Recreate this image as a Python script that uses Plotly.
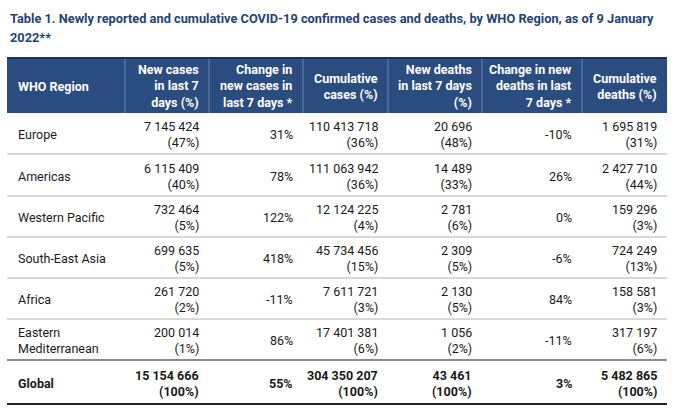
import plotly.graph_objects as go

# ---------------- data ----------------
title_lines = [
    "Table 1. Newly reported and cumulative COVID-19 confirmed cases and deaths, "
    "by WHO Region, as of 9 January",
    "2022**",
]
headers = [
    "WHO Region",
    "New cases<br>in last 7<br>days (%)",
    "Change in<br>new cases in<br>last 7 days *",
    "Cumulative<br>cases (%)",
    "New deaths<br>in last 7 days<br>(%)",
    "Change in new<br>deaths in last<br>7 days *",
    "Cumulative<br>deaths (%)",
]
regions = ["Europe", "Americas", "Western Pacific", "South-East Asia", "Africa",
           "Eastern Mediterranean", "Global"]
new_cases = [7145424, 6115409, 732464, 699635, 261720, 200014, 15154666]
new_cases_pct = [47, 40, 5, 5, 2, 1, 100]
change_cases = [31, 78, 122, 418, -11, 86, 55]
cum_cases = [110413718, 111063942, 12124225, 45734456, 7611721, 17401381, 304350207]
cum_cases_pct = [36, 36, 4, 15, 3, 6, 100]
new_deaths = [20696, 14489, 2781, 2309, 2130, 1056, 43461]
new_deaths_pct = [48, 33, 6, 5, 5, 2, 100]
change_deaths = [-10, 26, 0, -6, 84, -11, 3]
cum_deaths = [1695819, 2427710, 159296, 724249, 158581, 317197, 5482865]
cum_deaths_pct = [31, 44, 3, 13, 3, 6, 100]

# ---------------- layout constants ----------------
W, H = 680, 408
FONT = "Roboto, Arial, sans-serif"
col_edges = [7, 125, 209, 303, 388, 482, 582, 667]
header_top, header_bottom = 57, 113
row_edges = [113, 154, 196, 237, 278, 319, 360, 404]
HEADER_BG = "#2B4C7E"
TEXT = "#1a1a1a"
TITLE_COLOR = "#244374"


def fmt(v):
    return f"{v:,}".replace(",", " ")


def wrap_region(s):
    return s.replace("Eastern ", "Eastern<br>")


fig = go.Figure()
fig.add_trace(go.Scatter(x=[0, W], y=[0, H], mode="markers",
                         marker=dict(opacity=0), hoverinfo="skip", showlegend=False))

shapes = []
annotations = []

# header background
shapes.append(dict(type="rect", x0=col_edges[0], x1=col_edges[-1], y0=header_top,
                   y1=header_bottom, fillcolor=HEADER_BG, line=dict(width=0), layer="below"))
shapes.append(dict(type="rect", x0=col_edges[0], x1=col_edges[-1], y0=header_top,
                   y1=header_top + 2, fillcolor="#1B3358", line=dict(width=0)))
for xe in col_edges[1:-1]:
    shapes.append(dict(type="line", x0=xe, x1=xe, y0=header_top + 2, y1=header_bottom,
                       line=dict(color="#6F88B0", width=1)))

# header text
hy = (header_top + header_bottom) / 2 + 1
for i, h in enumerate(headers):
    if i == 0:
        x, xa = col_edges[0] + 9, "left"
    else:
        x, xa = col_edges[i + 1] - 8, "right"
    annotations.append(dict(x=x, y=hy, xref="x", yref="y", text=f"<b>{h}</b>",
                            showarrow=False, xanchor=xa, yanchor="middle", align=xa,
                            font=dict(family=FONT, size=12.5, color="white")))

# body rows
nrows = len(regions)
for r in range(nrows):
    y0, y1 = row_edges[r], row_edges[r + 1]
    yc = (y0 + y1) / 2 + 1
    bold = regions[r] == "Global"
    cells = [
        wrap_region(regions[r]),
        f"{fmt(new_cases[r])}<br>({new_cases_pct[r]}%)",
        f"{change_cases[r]}%",
        f"{fmt(cum_cases[r])}<br>({cum_cases_pct[r]}%)",
        f"{fmt(new_deaths[r])}<br>({new_deaths_pct[r]}%)",
        f"{change_deaths[r]}%",
        f"{fmt(cum_deaths[r])}<br>({cum_deaths_pct[r]}%)",
    ]
    for c, txt in enumerate(cells):
        if bold:
            txt = "<b>" + txt.replace("<br>", "</b><br><b>") + "</b>"
        if c == 0:
            x, xa = col_edges[0] + 9, "left"
        else:
            x, xa = col_edges[c + 1] - 8, "right"
        annotations.append(dict(x=x, y=yc, xref="x", yref="y", text=txt,
                                showarrow=False, xanchor=xa, yanchor="middle", align=xa,
                                font=dict(family=FONT, size=12.5, color=TEXT)))
    # separator lines
    if r < nrows - 1:
        is_before_total = (r == nrows - 2)
        shapes.append(dict(type="line", x0=col_edges[0], x1=col_edges[-1], y0=y1, y1=y1,
                           line=dict(color="#8c8c8c" if is_before_total else "#b3b3b3",
                                     width=2 if is_before_total else 1.2)))
shapes.append(dict(type="line", x0=col_edges[0], x1=col_edges[-1], y0=row_edges[-1],
                   y1=row_edges[-1], line=dict(color="#222222", width=2)))

# title (two lines)
for ty, line in zip([18, 37], title_lines):
    annotations.append(dict(x=8, y=ty, xref="x", yref="y", text=f"<b>{line}</b>",
                            showarrow=False, xanchor="left", yanchor="middle", align="left",
                            font=dict(family=FONT, size=12.8, color=TITLE_COLOR)))

fig.update_layout(
    width=W, height=H,
    margin=dict(l=0, r=0, t=0, b=0),
    paper_bgcolor="white", plot_bgcolor="white",
    xaxis=dict(range=[0, W], visible=False, fixedrange=True),
    yaxis=dict(range=[H, 0], visible=False, fixedrange=True),
    shapes=shapes, annotations=annotations, showlegend=False,
)
fig.write_html("out.html", config={"displayModeBar": False},
               post_script="document.body.style.margin='0';")
